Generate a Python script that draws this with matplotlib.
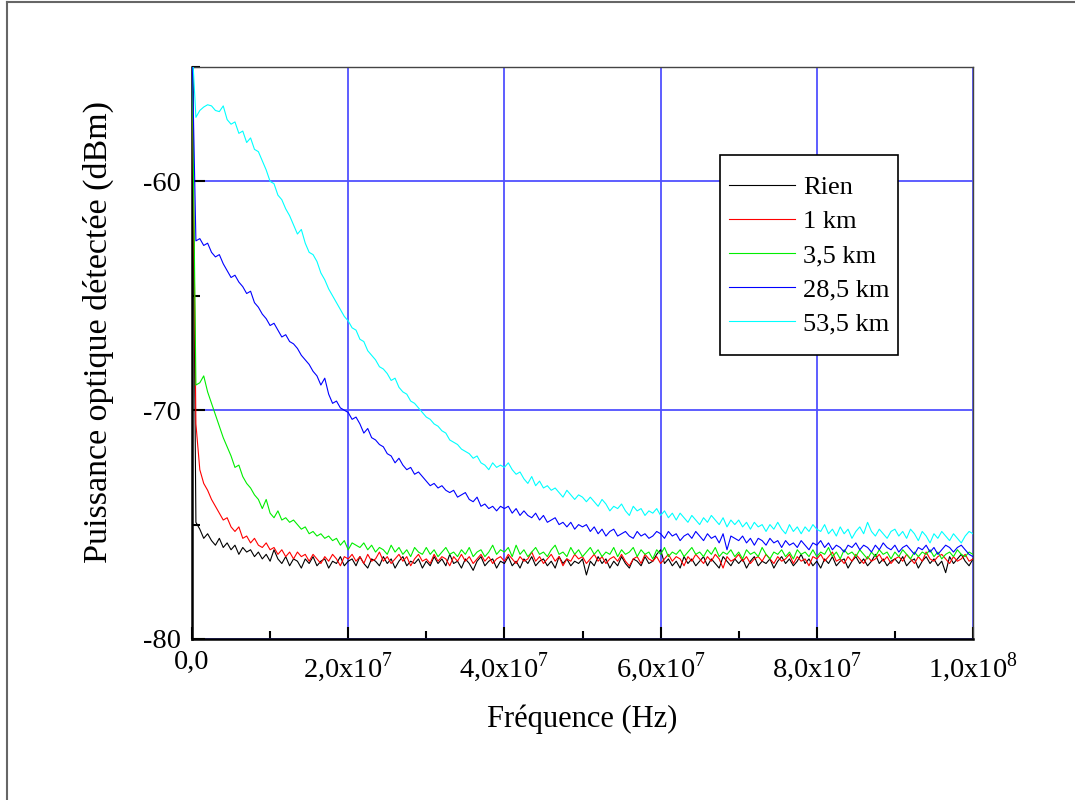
import numpy as np
import matplotlib
matplotlib.use("Agg")
import matplotlib.pyplot as plt
from matplotlib.ticker import MultipleLocator, FixedLocator, FixedFormatter
from matplotlib.lines import Line2D
from matplotlib.patches import Rectangle

plt.rcParams["font.family"] = ["Liberation Serif", "DejaVu Serif"]
plt.rcParams["mathtext.fontset"] = "custom"
plt.rcParams["mathtext.rm"] = "Liberation Serif"
plt.rcParams["axes.unicode_minus"] = False

# frequency grid, MHz (0.5 MHz step)
freq_mhz = np.arange(0, 100.5, 0.5)

labels = ["Rien", "1 km", "3,5 km", "28,5 km", "53,5 km"]
colors = ["black", "#ff0000", "#00ee00", "#0000ff", "#00ffff"]

rien = [
    -54.0, -74.9, -75.2, -75.6, -75.4, -75.7, -75.9, -75.6, -76.0, -75.8,
    -76.1, -75.9, -76.3, -76.0, -76.2, -76.1, -76.4, -76.2, -76.5, -76.3,
    -76.6, -76.1, -76.5, -76.7, -76.4, -76.8, -76.5, -76.6, -76.9, -76.5,
    -76.7, -76.4, -76.8, -76.6, -76.5, -76.9, -76.6, -76.7, -76.4, -76.8,
    -76.6, -76.5, -76.8, -76.4, -76.7, -76.9, -76.5, -76.6, -76.8, -76.4,
    -76.7, -76.5, -76.9, -76.6, -76.4, -76.8, -76.6, -76.7, -76.5, -76.9,
    -76.6, -76.8, -76.4, -76.7, -76.5, -76.8, -76.3, -76.7, -76.6, -76.9,
    -76.5, -76.7, -77.0, -76.6, -76.4, -76.8, -76.6, -76.5, -76.9, -76.6,
    -76.7, -76.4, -76.8, -76.6, -76.9, -76.5, -76.7, -76.4, -76.8, -76.6,
    -76.5, -76.8, -76.6, -76.9, -76.4, -76.7, -76.5, -76.8, -76.6, -76.7,
    -76.5, -77.2, -76.6, -76.8, -76.4, -76.7, -76.5, -76.9, -76.6, -76.8,
    -76.4, -76.7, -76.9, -76.5, -76.6, -76.8, -76.4, -76.7, -76.6, -76.3,
    -76.1, -76.7, -76.5, -76.8, -76.6, -76.9, -76.4, -76.7, -76.5, -76.8,
    -76.6, -76.4, -76.8, -76.5, -76.7, -76.9, -76.4, -76.6, -76.8, -76.5,
    -76.7, -76.5, -76.9, -76.6, -76.4, -76.8, -76.6, -76.7, -76.5, -76.9,
    -76.6, -76.4, -76.7, -76.5, -76.8, -76.6, -76.3, -76.7, -76.5, -76.8,
    -76.6, -76.9, -76.5, -76.7, -76.4, -76.8, -76.6, -76.5, -76.9, -76.6,
    -76.4, -76.7, -76.5, -76.8, -76.6, -76.3, -76.7, -76.5, -76.8, -76.6,
    -76.5, -76.7, -76.4, -76.8, -76.6, -76.5, -76.9, -76.6, -76.4, -76.7,
    -76.5, -76.8, -76.6, -77.1, -76.4, -76.7, -76.5, -76.3, -76.6, -76.8,
    -76.5,
]

km_1 = [
    -54.0, -70.6, -72.6, -73.2, -73.5, -73.9, -74.2, -74.5, -74.8, -74.7,
    -75.1, -75.3, -75.1, -75.6, -75.5, -75.8, -75.6, -75.9, -76.0, -75.8,
    -76.1, -76.0, -76.3, -76.1, -76.4, -76.2, -76.5, -76.2, -76.4, -76.3,
    -76.6, -76.3, -76.5, -76.7, -76.4, -76.6, -76.3, -76.5, -76.8, -76.4,
    -76.5, -76.3, -76.6, -76.4, -76.7, -76.3, -76.6, -76.5, -76.2, -76.6,
    -76.4, -76.7, -76.5, -76.3, -76.6, -76.4, -76.8, -76.5, -76.3, -76.6,
    -76.5, -76.7, -76.3, -76.6, -76.4, -76.5, -76.8, -76.4, -76.6, -76.3,
    -76.6, -76.4, -76.7, -76.5, -76.3, -76.6, -76.4, -76.7, -76.5, -76.4,
    -76.6, -76.3, -76.5, -76.7, -76.4, -76.6, -76.5, -76.2, -76.6, -76.4,
    -76.7, -76.5, -76.3, -76.6, -76.4, -76.8, -76.5, -76.6, -76.3, -76.5,
    -76.4, -76.7, -76.5, -76.3, -76.6, -76.4, -76.7, -76.5, -76.4, -76.6,
    -76.3, -76.6, -76.8, -76.5, -76.4, -76.7, -76.3, -76.5, -76.6, -76.4,
    -76.7, -76.5, -76.3, -76.6, -76.4, -76.5, -76.8, -76.4, -76.6, -76.3,
    -76.5, -76.7, -76.4, -76.6, -76.3, -76.5, -76.9, -76.4, -76.6, -76.5,
    -76.3, -76.6, -76.4, -76.7, -76.5, -76.4, -76.6, -76.3, -76.5, -76.7,
    -76.4, -76.6, -76.5, -76.3, -76.7, -76.4, -76.6, -76.5, -76.8, -76.4,
    -76.5, -76.3, -76.6, -76.4, -76.2, -76.6, -76.5, -76.7, -76.4, -76.6,
    -76.3, -76.5, -76.7, -76.4, -76.6, -76.5, -76.3, -76.6, -76.4, -76.7,
    -76.5, -76.4, -76.6, -76.3, -76.5, -76.7, -76.4, -76.6, -76.2, -76.5,
    -76.6, -76.4, -76.3, -76.5, -76.7, -76.4, -76.6, -76.5, -76.3, -76.6,
    -76.5,
]

km_3_5 = [
    -54.0, -68.9, -68.8, -68.5, -69.2, -69.7, -70.2, -70.7, -71.2, -71.6,
    -72.0, -72.5, -72.4, -72.9, -73.2, -73.4, -73.7, -73.9, -74.3, -73.9,
    -74.5, -74.7, -74.4, -74.8, -74.7, -74.9, -74.8, -75.0, -75.2, -75.1,
    -75.4, -75.3, -75.5, -75.4, -75.6, -75.5, -75.7, -75.6, -75.9, -75.7,
    -76.1, -75.8, -75.9, -76.0, -75.8, -76.1, -75.9, -76.2, -76.0, -76.1,
    -76.3, -75.9, -76.2, -76.0, -76.3, -76.1, -76.4, -76.0, -76.2, -76.3,
    -76.0, -76.3, -76.1, -76.4, -76.2, -76.0, -76.3, -76.2, -76.4, -76.1,
    -76.3, -76.0, -76.4, -76.2, -76.1, -76.4, -76.2, -75.9, -76.3, -76.1,
    -76.2, -76.0, -76.4, -75.9, -76.3, -76.1, -76.4, -76.2, -76.0, -76.3,
    -76.2, -76.4, -76.1, -75.9, -76.3, -76.2, -76.4, -76.0, -76.3, -76.1,
    -76.4, -76.2, -76.0, -76.3, -76.1, -76.4, -76.2, -76.3, -76.0, -76.4,
    -76.1, -76.3, -76.2, -76.0, -76.4, -76.1, -76.3, -76.2, -76.5, -76.1,
    -76.3, -76.0, -76.4, -76.2, -76.3, -76.1, -76.4, -76.2, -76.0, -76.3,
    -76.2, -76.4, -76.1, -76.3, -76.0, -76.4, -76.2, -76.3, -76.1, -76.4,
    -76.2, -76.5, -76.1, -76.3, -76.2, -76.4, -76.0, -76.3, -76.5, -76.2,
    -76.3, -76.1, -76.4, -76.2, -76.5, -76.1, -76.3, -76.2, -76.4, -76.1,
    -76.4, -76.2, -76.3, -76.0, -76.4, -76.2, -76.5, -76.1, -76.3, -76.2,
    -76.4, -76.1, -76.3, -76.5, -76.2, -76.4, -76.1, -76.3, -76.2, -76.5,
    -76.2, -76.4, -76.1, -76.3, -76.5, -76.2, -76.4, -76.2, -76.3, -76.1,
    -76.4, -76.2, -76.5, -76.3, -76.2, -76.4, -76.1, -76.3, -76.4, -76.2,
    -76.3,
]

km_28_5 = [
    -54.0, -62.6, -62.5, -62.8, -62.7, -63.1, -63.3, -63.2, -63.6, -63.9,
    -64.2, -64.1, -64.4, -64.6, -64.9, -64.8, -65.3, -65.5, -65.8, -66.0,
    -66.3, -66.2, -66.5, -66.8, -66.7, -67.0, -67.1, -67.3, -67.6, -67.8,
    -68.0, -68.3, -68.5, -68.9, -68.6, -69.3, -69.7, -69.6, -69.9, -70.0,
    -70.1, -70.4, -70.3, -70.6, -71.0, -70.8, -71.2, -71.3, -71.5, -71.6,
    -71.9, -72.0, -72.3, -72.1, -72.4, -72.6, -72.5, -72.8, -72.7, -72.9,
    -73.1, -73.3, -73.2, -73.4, -73.3, -73.5, -73.6, -73.5, -73.8, -73.7,
    -73.6, -73.9, -74.0, -73.8, -74.2, -74.1, -74.3, -74.2, -74.4, -74.2,
    -74.3, -74.2, -74.5, -74.3, -74.6, -74.4, -74.6, -74.7, -74.5, -74.8,
    -74.6, -74.9, -74.8, -74.7, -75.0, -74.9, -75.1, -74.9, -75.2, -75.0,
    -75.1, -75.0, -75.3, -75.1, -75.4, -75.2, -75.5, -75.3, -75.2, -75.5,
    -75.4, -75.3, -75.5, -75.6, -75.3, -75.5, -75.4, -75.6, -75.5, -75.3,
    -75.4, -75.6, -75.3, -75.5, -75.4, -75.7, -75.5, -75.4, -75.6, -75.3,
    -75.5, -75.7, -75.4, -75.6, -75.5, -75.8, -75.4, -76.1, -75.5, -75.6,
    -75.7, -75.5, -75.8, -75.6, -75.9, -75.6, -75.7, -75.9, -75.6, -75.8,
    -75.7, -76.0, -75.7, -75.9, -75.8, -76.0, -75.7, -75.9, -76.1, -75.8,
    -75.9, -75.7, -76.0, -75.8, -76.1, -75.9, -76.0, -76.2, -75.9, -76.0,
    -75.8, -76.1, -75.9, -76.0, -76.2, -75.9, -76.1, -75.8, -76.0, -76.1,
    -75.9, -76.2, -76.0, -75.9, -76.1, -76.3, -76.0, -76.1, -75.9, -76.2,
    -76.0, -76.3, -76.1, -75.9, -76.0, -76.2, -76.0, -75.9, -76.1, -76.3,
    -76.4,
]

km_53_5 = [
    -54.0, -57.2, -56.9, -56.75, -56.65, -56.7, -56.9, -56.95, -56.7, -57.3,
    -57.5, -57.4, -57.9, -57.8, -58.3, -58.1, -58.6, -58.7, -59.1, -59.5,
    -60.0, -60.1, -60.6, -60.8, -61.2, -61.5, -61.9, -62.3, -62.1, -62.7,
    -63.1, -63.2, -63.5, -64.0, -64.3, -64.7, -65.0, -65.3, -65.6, -65.9,
    -66.1, -66.4, -66.5, -66.9, -67.0, -67.4, -67.6, -67.8, -68.1, -68.2,
    -68.4, -68.7, -68.6, -69.0, -69.2, -69.3, -69.6, -69.7, -69.9, -70.1,
    -70.3, -70.4, -70.6, -70.7, -70.9, -71.0, -71.3, -71.4, -71.5, -71.7,
    -71.8, -71.9, -72.1, -72.0, -72.3, -72.4, -72.6, -72.3, -72.5, -72.4,
    -72.5, -72.3, -72.6, -72.8, -72.7, -73.0, -73.2, -72.9, -73.3, -73.1,
    -73.4, -73.3, -73.5, -73.4, -73.6, -73.8, -73.5, -73.7, -73.9, -73.7,
    -73.8, -74.0, -73.8, -74.0, -74.2, -73.9, -74.1, -74.4, -74.2, -74.3,
    -74.1, -74.4, -74.6, -74.2, -74.4, -74.3, -74.6, -74.4, -74.5, -74.3,
    -74.6, -74.4, -74.7, -74.5, -74.8, -74.5, -74.7, -74.9, -74.6, -74.8,
    -75.0, -74.7, -74.9, -74.6, -74.8, -75.0, -74.7, -75.1, -74.8, -75.0,
    -74.8, -75.1, -74.9, -75.2, -74.9, -75.1, -75.0, -75.3, -75.0, -75.2,
    -74.9, -75.2, -75.4, -75.0, -75.3, -75.1, -75.4, -75.1, -75.3, -75.0,
    -75.2, -75.3, -75.0, -75.4, -75.2, -75.5, -75.1, -75.4, -75.2, -75.6,
    -75.3, -75.1, -75.4, -74.9, -75.3, -75.5, -75.2, -75.4, -75.6, -75.3,
    -75.2, -75.5, -75.3, -75.6, -75.2, -75.4, -75.7, -75.3, -75.5, -75.8,
    -75.4, -75.6, -75.3, -75.5, -75.7, -75.4, -75.6, -75.8, -75.5, -75.3,
    -75.4,
]

x_ticks = [0, 2e7, 4e7, 6e7, 8e7, 1e8]
x_tick_labels = ["0,0", "2,0x10$^7$", "4,0x10$^7$", "6,0x10$^7$",
                 "8,0x10$^7$", "1,0x10$^8$"]

fig = plt.figure(figsize=(10.75, 8), dpi=100)
ax = fig.add_axes([192 / 1075, 161 / 800, 781 / 1075, 572 / 800])

freq_hz = freq_mhz * 1e6
for vals, lab, col in zip([rien, km_1, km_3_5, km_28_5, km_53_5], labels, colors):
    ax.plot(freq_hz, vals, color=col, lw=0.8, label=lab, zorder=3)

ax.set_xlim(0, 1e8)
ax.set_ylim(-80, -55)

ax.xaxis.set_major_locator(FixedLocator(x_ticks))
ax.xaxis.set_major_formatter(FixedFormatter(x_tick_labels))
ax.xaxis.set_minor_locator(MultipleLocator(1e7))
ax.yaxis.set_major_locator(MultipleLocator(10))
ax.yaxis.set_minor_locator(MultipleLocator(5))

ax.grid(True, which="major", color="#5050ff", lw=1.3, zorder=1)
ax.tick_params(which="both", direction="in", top=False, right=False,
               labelsize=20.5, width=1.5, color="black")
ax.tick_params(which="major", length=9, pad=8)
ax.tick_params(which="minor", length=5.5)

for side in ["left", "bottom"]:
    ax.spines[side].set_linewidth(1.8)
    ax.spines[side].set_color("black")
for side in ["top", "right"]:
    ax.spines[side].set_linewidth(1.0)
    ax.spines[side].set_color("#444444")

ax.set_xlabel("Fréquence (Hz)", fontsize=22, labelpad=15)
ax.set_ylabel("Puissance optique détectée (dBm)", fontsize=24.5)
ax.yaxis.set_label_coords((114 - 192) / 781, (639 - 332) / 572)

# legend box drawn separately, entries placed inside it
ax.add_patch(Rectangle(((720 - 192) / 781, (639 - 355) / 572), 178 / 781, 200 / 572,
                       transform=ax.transAxes, facecolor="white", edgecolor="black",
                       lw=1.2, zorder=5))
leg = ax.legend(loc="upper left", bbox_to_anchor=((729 - 192) / 781, (639 - 176) / 572),
                fontsize=19, frameon=False, handlelength=2.5, handletextpad=0.3,
                labelspacing=0.4, borderpad=0, borderaxespad=0)
leg.set_zorder(6)

# outer frame, left and top edges only
fig.add_artist(Line2D([7 / 1075, 7 / 1075], [0, 1 - 2 / 800], transform=fig.transFigure,
                      color="#666666", lw=1.5))
fig.add_artist(Line2D([7 / 1075, 1], [1 - 2 / 800, 1 - 2 / 800], transform=fig.transFigure,
                      color="#666666", lw=1.5))

fig.savefig("out.png", dpi=100)
